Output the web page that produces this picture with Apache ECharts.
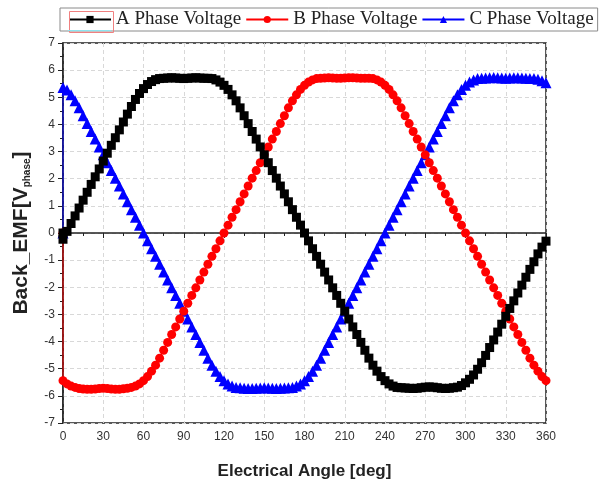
<!DOCTYPE html>
<html>
<head>
<meta charset="utf-8">
<script src="https://cdn.jsdelivr.net/npm/echarts@6/dist/echarts.min.js"></script>
<style>
  html, body { margin: 0; padding: 0; background: #ffffff; }
  #chart { width: 601px; height: 485px; }
</style>
</head>
<body>
<div id="chart"></div>
<script>
// Electrical angle samples [deg]: each trace opens with a point at 0 deg / 0 V,
// then runs on a 3-degree grid from 0 to 360.
const angles = [0];
for (let a = 0; a <= 360; a += 3) angles.push(a);

// Back-EMF per phase [V], one value per entry of `angles`
const phaseA = [0,
  -0.23, 0.06, 0.35, 0.63, 0.92, 1.21, 1.50, 1.79, 2.07, 2.36,
  2.65, 2.94, 3.23, 3.51, 3.80, 4.09, 4.38, 4.66, 4.92, 5.14,
  5.32, 5.47, 5.58, 5.65, 5.69, 5.70, 5.71, 5.72, 5.71, 5.70,
  5.69, 5.70, 5.71, 5.72, 5.71, 5.70, 5.70, 5.69, 5.64, 5.56,
  5.44, 5.29, 5.09, 4.87, 4.61, 4.32, 4.03, 3.74, 3.46, 3.17,
  2.88, 2.59, 2.30, 2.02, 1.73, 1.44, 1.15, 0.86, 0.58, 0.29,
  0.00, -0.29, -0.58, -0.86, -1.15, -1.44, -1.73, -2.02, -2.30, -2.59,
  -2.88, -3.17, -3.46, -3.74, -4.03, -4.32, -4.61, -4.87, -5.09, -5.29,
  -5.44, -5.56, -5.64, -5.69, -5.70, -5.71, -5.72, -5.73, -5.72, -5.70,
  -5.68, -5.67, -5.68, -5.70, -5.72, -5.73, -5.72, -5.70, -5.68, -5.62,
  -5.52, -5.39, -5.23, -5.02, -4.78, -4.51, -4.22, -3.94, -3.65, -3.36,
  -3.07, -2.78, -2.50, -2.21, -1.92, -1.63, -1.34, -1.06, -0.77, -0.52,
  -0.30];

const phaseB = [0,
  -5.44, -5.56, -5.64, -5.69, -5.73, -5.75, -5.76, -5.76, -5.75, -5.73,
  -5.72, -5.73, -5.75, -5.76, -5.76, -5.74, -5.72, -5.69, -5.64, -5.56,
  -5.44, -5.29, -5.09, -4.87, -4.61, -4.32, -4.03, -3.74, -3.46, -3.17,
  -2.88, -2.59, -2.30, -2.02, -1.73, -1.44, -1.15, -0.86, -0.58, -0.29,
  0.00, 0.29, 0.58, 0.86, 1.15, 1.44, 1.73, 2.02, 2.30, 2.59,
  2.88, 3.17, 3.46, 3.74, 4.03, 4.32, 4.61, 4.87, 5.09, 5.29,
  5.44, 5.56, 5.64, 5.69, 5.70, 5.71, 5.72, 5.71, 5.70, 5.70,
  5.71, 5.72, 5.72, 5.71, 5.70, 5.70, 5.70, 5.69, 5.64, 5.56,
  5.44, 5.29, 5.09, 4.87, 4.61, 4.32, 4.03, 3.74, 3.46, 3.17,
  2.88, 2.59, 2.30, 2.02, 1.73, 1.44, 1.15, 0.86, 0.58, 0.29,
  0.00, -0.29, -0.58, -0.86, -1.15, -1.44, -1.73, -2.02, -2.30, -2.59,
  -2.88, -3.17, -3.46, -3.74, -4.03, -4.32, -4.61, -4.87, -5.09, -5.29,
  -5.44];

const phaseC = [0,
  5.36, 5.27, 5.09, 4.87, 4.61, 4.32, 4.03, 3.74, 3.46, 3.17,
  2.88, 2.59, 2.30, 2.02, 1.73, 1.44, 1.15, 0.86, 0.58, 0.29,
  0.00, -0.29, -0.58, -0.86, -1.15, -1.44, -1.73, -2.02, -2.30, -2.59,
  -2.88, -3.17, -3.46, -3.74, -4.03, -4.32, -4.61, -4.87, -5.09, -5.29,
  -5.44, -5.56, -5.64, -5.69, -5.70, -5.72, -5.73, -5.73, -5.72, -5.71,
  -5.70, -5.71, -5.72, -5.73, -5.72, -5.71, -5.70, -5.69, -5.64, -5.56,
  -5.44, -5.29, -5.09, -4.87, -4.61, -4.32, -4.03, -3.74, -3.46, -3.17,
  -2.88, -2.59, -2.30, -2.02, -1.73, -1.44, -1.15, -0.86, -0.58, -0.29,
  0.00, 0.29, 0.58, 0.86, 1.15, 1.44, 1.73, 2.02, 2.30, 2.59,
  2.88, 3.17, 3.46, 3.74, 4.03, 4.32, 4.61, 4.87, 5.09, 5.29,
  5.44, 5.56, 5.64, 5.69, 5.70, 5.71, 5.72, 5.73, 5.72, 5.71,
  5.70, 5.71, 5.72, 5.72, 5.71, 5.70, 5.69, 5.69, 5.66, 5.61,
  5.54];

const seriesNames = ['A Phase Voltage', 'B Phase Voltage', 'C Phase Voltage'];
const seriesColors = ['#000000', '#ff0000', '#0000ff'];
const seriesSymbols = ['rect', 'circle', 'triangle'];
const seriesSizes = [9, 9, 11];

const pairs = vals => angles.map((a, i) => [a, vals[i]]);
const seriesData = [phaseA, phaseB, phaseC];

const chart = echarts.init(document.getElementById('chart'), null, { renderer: 'canvas' });

const sans = 'Liberation Sans, Arial, sans-serif';
const axisFont = { fontFamily: sans, fontSize: 12, color: '#333' };
const gridLine = { show: true, lineStyle: { color: '#d8d8d8', type: [4, 3], width: 1 } };

chart.setOption({
  animation: false,
  backgroundColor: '#ffffff',
  legend: {
    left: 60, top: 8,
    padding: [2, 4, 2, 8],
    itemGap: 4,
    itemWidth: 42, itemHeight: 9,
    borderColor: '#8a8a8a', borderWidth: 1,
    textStyle: { fontFamily: 'Liberation Serif, Times New Roman, serif', fontSize: 19, color: '#222' },
    data: seriesNames
  },
  // selection frame around the first legend key
  graphic: [{
    type: 'rect', left: 67, top: 9, z: 100,
    shape: { width: 44, height: 21 },
    style: { fill: 'none', stroke: '#f08080', lineWidth: 1 }
  }, {
    type: 'line', z: 101,
    shape: { x1: 68, y1: 30.5, x2: 111, y2: 30.5 },
    style: { stroke: '#8fe3ef', lineWidth: 1 }
  }],
  grid: {
    left: 63, right: 55, top: 43, bottom: 62,
    show: true, borderColor: '#222', borderWidth: 1.5
  },
  xAxis: {
    type: 'value', min: 0, max: 360, interval: 30,
    name: 'Electrical Angle [deg]', nameLocation: 'middle', nameGap: 40,
    nameTextStyle: { fontFamily: sans, fontSize: 17, fontWeight: 'bold', color: '#222' },
    axisLine: { lineStyle: { color: '#222', width: 1.5 } },
    axisTick: { show: true, inside: false, length: 5, lineStyle: { color: '#222' } },
    minorTick: { show: true, splitNumber: 2, length: 3, lineStyle: { color: '#222' } },
    axisLabel: Object.assign({ margin: 8 }, axisFont),
    splitLine: gridLine
  },
  yAxis: {
    type: 'value', min: -7, max: 7, interval: 1,
    name: 'Back_EMF[V{s|phase}]', nameLocation: 'middle', nameGap: 31, nameRotate: 90,
    nameTextStyle: {
      fontFamily: sans, fontSize: 21, fontWeight: 'bold', color: '#222',
      rich: { s: { fontFamily: sans, fontSize: 10, fontWeight: 'bold', color: '#222', verticalAlign: 'bottom', padding: [11, 0, 0, 0] } }
    },
    axisLine: { lineStyle: { color: '#222', width: 1.5 } },
    axisTick: { show: true, inside: false, length: 5, lineStyle: { color: '#222' } },
    minorTick: { show: true, splitNumber: 2, length: 3, lineStyle: { color: '#222' } },
    axisLabel: Object.assign({ margin: 8 }, axisFont),
    splitLine: gridLine
  },
  series: seriesData.map((vals, k) => ({
    name: seriesNames[k],
    type: 'line',
    data: pairs(vals),
    symbol: seriesSymbols[k],
    symbolSize: seriesSizes[k],
    showAllSymbol: true,
    itemStyle: { color: seriesColors[k], borderWidth: 0 },
    lineStyle: { color: seriesColors[k], width: 1 },
    z: 3 - k
  }))
});
</script>
</body>
</html>
